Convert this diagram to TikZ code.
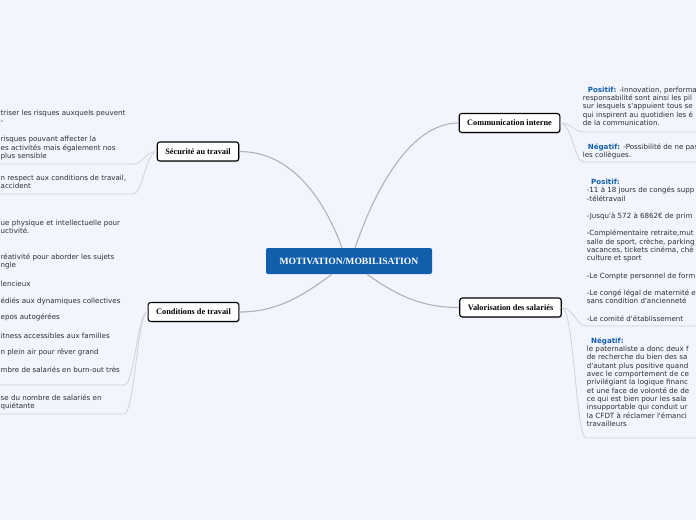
\documentclass[tikz,border=0pt]{standalone}
\usepackage{fontspec}
\setmainfont{Liberation Serif}
\newfontfamily\leaffont{DejaVu Sans}
\usepackage{xcolor}
\usepackage{tikz}
\usetikzlibrary{calc,positioning,shadows}
\definecolor{bgmap}{RGB}{243,245,254}
\definecolor{mapblue}{RGB}{16,94,172}
\definecolor{leafgray}{RGB}{45,45,45}

\begin{document}
\begin{tikzpicture}[x=1pt,y=-1pt,
  topic/.style={draw=black,line width=1.1pt,rounded corners=2.5pt,fill=white,
    font=\fontsize{8.3}{10}\selectfont\bfseries,inner xsep=8pt,inner ysep=0pt,minimum height=19pt,
    drop shadow={shadow xshift=1pt,shadow yshift=-1pt,opacity=.3}},
  leaf/.style={anchor=north west,inner sep=0pt,align=left,text=leafgray,
    font=\leaffont\fontsize{7.1}{8.35}\selectfont,execute at begin node={\rule{0pt}{7pt}}},
  branch/.style={draw=gray!60,line width=1.1pt},
  twig/.style={draw=gray!35,line width=.8pt}]
\useasboundingbox[fill=bgmap] (0,0) rectangle (696,520);

% centre and main topics
\node[fill=mapblue,text=white,rounded corners=2pt,minimum width=166pt,minimum height=26pt,
  font=\fontsize{9.6}{11}\selectfont\bfseries] (centre) at (349,261) {MOTIVATION/MOBILISATION};
\node[topic] (secu) at (198,151.5) {Sécurité au travail};
\node[topic] (cond) at (193.5,312) {Conditions de travail};
\node[topic] (comm) at (509.5,123) {Communication interne};
\node[topic] (valo) at (510.5,307.5) {Valorisation des salariés};

\draw[branch] (secu.east) .. controls (300,151.5) and (330,215) .. ($(centre.north)+(-7,0)$);
\draw[branch] ($(centre.north)+(6,0)$) .. controls (375,190) and (410,123) .. (comm.west);
\draw[branch] ($(centre.south)+(-17,0)$) .. controls (300,298) and (275,312) .. (cond.east);
\draw[branch] ($(centre.south)+(18,0)$) .. controls (400,298) and (425,307.5) .. (valo.west);

% left leaves (top of first line = baseline - 7)
\foreach \name/\y/\txt in {
  s1/109.5/{triser les risques auxquels peuvent\\-},
  s2/136.2/{risques pouvant affecter la\\es activités mais également nos\\plus sensible},
  s3/174.5/{n respect aux conditions de travail,\\accident},
  c1/220/{ue physique et intellectuelle pour\\uctivité.},
  c2/253.5/{réativité pour aborder les sujets\\ngle},
  c3/279.5/{lencieux},
  c4/296.2/{édiés aux dynamiques collectives},
  c5/312.5/{epos autogérées},
  c6/331.2/{itness accessibles aux familles},
  c7/347.5/{n plein air pour rêver grand},
  c8/365.5/{mbre de salariés en burn-out très},
  c9/394.5/{se du nombre de salariés en\\quiétante}}
  \node[leaf] (\name) at (0.5,\y) {\txt};

\coordinate (s2a) at (133,164);   \coordinate (s2b) at (0,164);
\coordinate (s3a) at (133,194);   \coordinate (s3b) at (0,194);
\coordinate (c8a) at (124,385);   \coordinate (c8b) at (0,385);
\coordinate (c9a) at (124,414);   \coordinate (c9b) at (0,414);
\draw[twig] (secu.west) .. controls (145,151.5) and (143,164) .. (s2a) -- (s2b);
\draw[twig] (secu.west) .. controls (146,151.5) and (143,194) .. (s3a) -- (s3b);
\draw[twig] (cond.west) .. controls (137,312) and (135,385) .. (c8a) -- (c8b);
\draw[twig] (cond.west) .. controls (137,312) and (135,414) .. (c9a) -- (c9b);

% right leaves
\node[leaf] (pos1) at (582.7,86.5) {\hspace*{5pt}\textcolor{mapblue}{\bfseries Positif:} -Innovation, performa\\
  responsabilité sont ainsi les pil\\sur lesquels s'appuient tous se\\qui inspirent au quotidien les é\\de la communication.};
\node[leaf] (neg1) at (582.7,143.2) {\hspace*{5pt}\textcolor{mapblue}{\bfseries Négatif:} -Possibilité de ne pas\\les collègues.};
\node[leaf] (pos2) at (586.7,178.8) {\hspace*{4.3pt}\textcolor{mapblue}{\bfseries Positif:}\\
  -11 à 18 jours de congés supp\\-télétravail\\[9pt]
  -Jusqu'à 572 à 6862€ de prim\\[9pt]
  -Complémentaire retraite,mut\\salle de sport, crèche, parking\\vacances, tickets cinéma, chè\\culture et sport\\[9pt]
  -Le Compte personnel de form\\[9pt]
  -Le congé légal de maternité e\\sans condition d'ancienneté\\[9pt]
  -Le comité d'établissement};
\node[leaf] (neg2) at (586.7,337.2) {\hspace*{4.3pt}\textcolor{mapblue}{\bfseries Négatif:}\\
  le paternaliste a donc deux f\\de recherche du bien des sa\\d'autant plus positive quand\\avec le comportement de ce\\
  privilégiant la logique financ\\et une face de volonté de de\\ce qui est bien pour les sala\\insupportable qui conduit ur\\
  la CFDT à réclamer l'émanci\\travailleurs};

\coordinate (p1a) at (584,132);   \coordinate (p1b) at (696,132);
\coordinate (n1a) at (584,162);   \coordinate (n1b) at (696,162);
\coordinate (p2a) at (586,326);   \coordinate (p2b) at (696,326);
\coordinate (n2a) at (586,438);   \coordinate (n2b) at (696,438);
\draw[twig] (comm.east) .. controls (572,123) and (574,132) .. (p1a) -- (p1b);
\draw[twig] (comm.east) .. controls (572,123) and (574,162) .. (n1a) -- (n1b);
\draw[twig] (valo.east) .. controls (574,307.5) and (576,326) .. (p2a) -- (p2b);
\draw[twig] (valo.east) .. controls (574,307.5) and (576,438) .. (n2a) -- (n2b);
\end{tikzpicture}
\end{document}
